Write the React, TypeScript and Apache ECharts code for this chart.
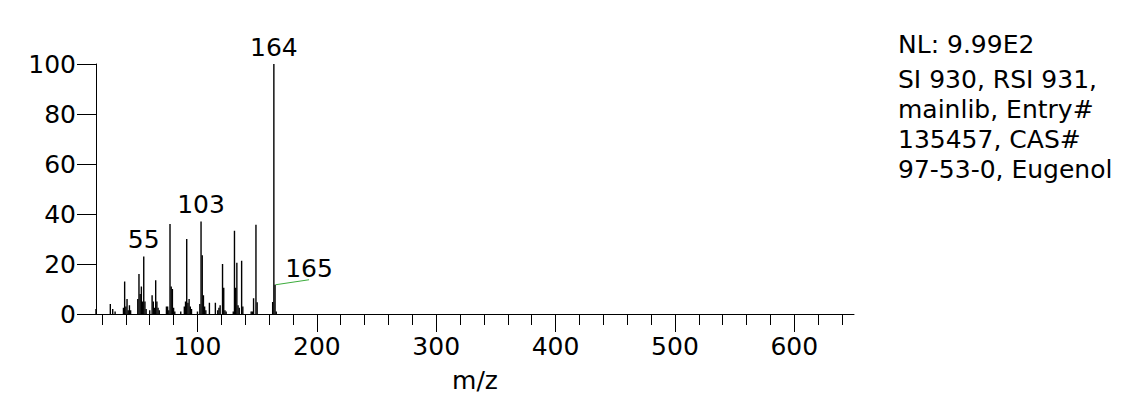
import React, { useEffect, useRef } from "react";
import * as echarts from "echarts";

const mzValues = [
  15, 27, 29, 31, 38, 39, 40, 41, 42, 43, 44, 50, 51, 52, 53, 54, 55, 56, 57, 60, 62, 63, 64, 65, 66, 67, 68,
  74, 75, 76, 77, 78, 79, 80, 81, 86, 89, 90, 91, 92, 93, 94, 95, 100, 102, 103, 104, 105, 106, 107, 110, 115,
  117, 118, 119, 121, 122, 123, 124, 130, 131, 132, 133, 134, 135, 137, 138, 145, 146, 147, 149, 150, 163, 164,
  165, 166,
];
const intensities = [
  2, 4, 2, 1, 2.5, 13, 3, 6, 1.5, 3.5, 1.5, 6, 16, 8, 11, 5, 23, 5, 2, 1.5, 7.5, 5, 2.5, 13.5, 5, 2.5, 1.5,
  3, 3, 1.5, 36, 11, 10, 2.5, 1, 1, 3, 5, 30, 4.5, 6, 3, 2, 1, 4, 37, 23.5, 7.5, 3, 1.5, 4.5, 4.5,
  1.5, 2.5, 3.5, 20, 10.5, 1.5, 1, 1, 33.3, 10.5, 20.5, 3.5, 2.5, 21.3, 3, 1, 1, 6.3, 35.7, 4.7, 4.8, 100,
  11.7, 1,
];
const labeledPeaks = [55, 103, 164];
const guidedPeak = 165;
const xMajorTicks = [100, 200, 300, 400, 500, 600];
const xMinorTicks = [
  20, 40, 60, 80, 120, 140, 160, 180, 220, 240, 260, 280, 320, 340, 360, 380, 420, 440, 460, 480, 520, 540, 560,
  580, 620, 640,
];
const xMin = 15;
const xMax = 650;
const yMin = 0;
const yMax = 100;
const yInterval = 20;
const xAxisTitle = "m/z";
const infoHeader = "NL: 9.99E2";
const infoLines = ["SI 930, RSI 931,", "mainlib, Entry#", "135457, CAS#", "97-53-0, Eugenol"];

const FONT = "'DejaVu Sans', 'Liberation Sans', Arial, sans-serif";

export default function App() {
  const ref = useRef<HTMLDivElement>(null);
  useEffect(() => {
    if (!ref.current) return;
    const chart = echarts.init(ref.current, undefined, { renderer: "svg" });
    const grid = { left: 96, right: 282, top: 64, bottom: 86 };
    const data = mzValues.map((m, i) => {
      const item: any = { value: [m, intensities[i]] };
      if (labeledPeaks.includes(m)) {
        item.label = { show: true, formatter: String(m) };
      }
      return item;
    });
    chart.setOption({
      animation: false,
      grid: [{ ...grid }, { ...grid }],
      xAxis: [
        {
          type: "value",
          gridIndex: 0,
          position: "bottom",
          min: xMin,
          max: xMax,
          splitLine: { show: false },
          axisLine: { show: true, onZero: false, lineStyle: { color: "#000", width: 1 } },
          axisTick: { show: true, length: 18, lineStyle: { color: "#000" }, customValues: xMajorTicks },
          axisLabel: {
            show: true,
            customValues: xMajorTicks,
            margin: 20,
            fontSize: 25,
            color: "#000",
            fontFamily: FONT,
          },
          name: xAxisTitle,
          nameLocation: "middle",
          nameGap: 54,
          nameTextStyle: { fontSize: 25, color: "#000", fontFamily: FONT },
        },
        {
          type: "value",
          gridIndex: 1,
          position: "bottom",
          min: xMin,
          max: xMax,
          splitLine: { show: false },
          axisLine: { show: false },
          axisTick: { show: true, length: 11, lineStyle: { color: "#000" }, customValues: xMinorTicks },
          axisLabel: { show: false },
        },
      ],
      yAxis: [
        {
          type: "value",
          gridIndex: 0,
          min: yMin,
          max: yMax,
          interval: yInterval,
          splitLine: { show: false },
          axisLine: { show: true, lineStyle: { color: "#000", width: 1 } },
          axisTick: { show: true, length: 19, lineStyle: { color: "#000" } },
          axisLabel: { margin: 20, fontSize: 25, color: "#000", fontFamily: FONT },
        },
        { type: "value", gridIndex: 1, min: yMin, max: yMax, show: false },
      ],
      series: [
        {
          type: "bar",
          xAxisIndex: 0,
          yAxisIndex: 0,
          barWidth: 1.4,
          itemStyle: { color: "#000" },
          label: {
            show: false,
            position: "top",
            distance: 4,
            fontSize: 25,
            lineHeight: 26,
            color: "#000",
            fontFamily: FONT,
          },
          data,
        },
      ],
    });

    const gi = mzValues.indexOf(guidedPeak);
    const [px, py] = chart.convertToPixel({ xAxisIndex: 0, yAxisIndex: 0 }, [guidedPeak, intensities[gi]]) as number[];
    const ex = px + 34;
    const ey = py - 5;
    const textStyle = (t: string, align: string) => ({
      text: t,
      fill: "#000",
      font: `25px ${FONT}`,
      textAlign: align,
      textVerticalAlign: "middle",
    });
    const graphics: any[] = [
      {
        type: "line",
        shape: { x1: px + 0.5, y1: py, x2: ex, y2: ey },
        style: { stroke: "#3cac3c", lineWidth: 1 },
      },
      { type: "text", x: ex, y: ey - 11, style: textStyle(String(guidedPeak), "center") },
      { type: "text", x: 898, y: 44, style: textStyle(infoHeader, "left") },
      ...infoLines.map((t, i) => ({ type: "text", x: 898, y: 79 + i * 30, style: textStyle(t, "left") })),
    ];
    chart.setOption({ graphic: graphics });

    return () => chart.dispose();
  }, []);
  return (
    <div
      ref={ref}
      style={{ position: "absolute", left: 0, top: 0, width: 1136, height: 400, background: "#fff" }}
    />
  );
}
